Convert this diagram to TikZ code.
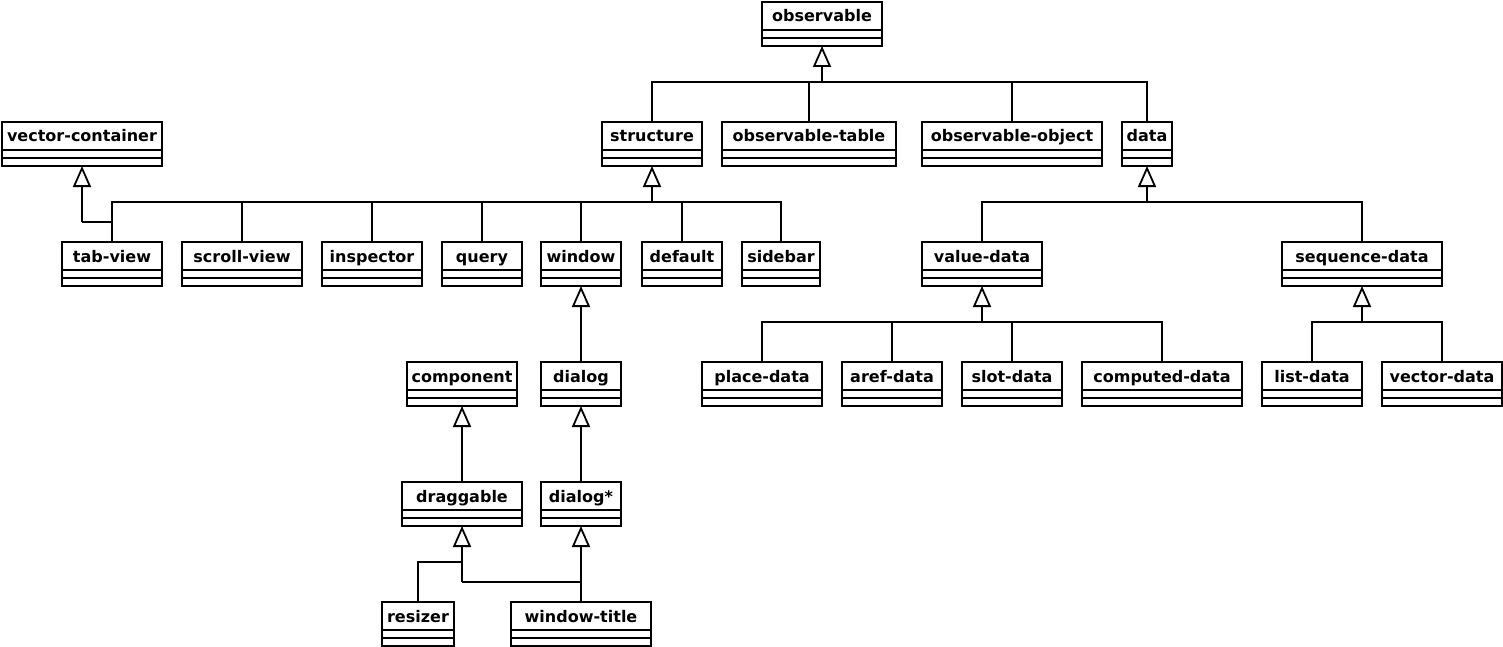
\documentclass[tikz,border=0pt]{standalone}
\usepackage{fontspec}
\setmainfont{DejaVu Sans}
\usepackage{tikz}
\usetikzlibrary{arrows.meta,positioning}
\tikzstyle{classhead} = [rectangle, draw=black, line width=1.8pt, inner sep=0pt, outer sep=0pt, minimum height=28pt, text height=14pt, text depth=2pt, font=\fontsize{16}{18}\selectfont\bfseries, anchor=north west]
\tikzstyle{classbody} = [rectangle, draw=black, line width=1.8pt, inner sep=0pt, outer sep=0pt, minimum height=16pt, path picture={\draw[line width=1.8pt] (path picture bounding box.west) -- (path picture bounding box.east);}]
\tikzstyle{inherit} = [line width=1.8pt, -{Triangle[open, width=18pt, length=21pt]}]
\tikzstyle{link} = [line width=1.8pt]

\begin{document}
\begin{tikzpicture}[x=1pt, y=-1pt]
\useasboundingbox (0,0) rectangle (1503,647);

% Top level
\node (observable) [classhead, minimum width=120pt] at (762,2) {observable};
\node (observable-b) [classbody, minimum width=120pt, below=0pt of observable] {};

% Second row
\node (vector-container) [classhead, minimum width=160pt] at (2,122) {vector-container};
\node (vector-container-b) [classbody, minimum width=160pt, below=0pt of vector-container] {};
\node (structure) [classhead, minimum width=100pt] at (602,122) {structure};
\node (structure-b) [classbody, minimum width=100pt, below=0pt of structure] {};
\node (observable-table) [classhead, minimum width=174pt] at (722,122) {observable-table};
\node (observable-table-b) [classbody, minimum width=174pt, below=0pt of observable-table] {};
\node (observable-object) [classhead, minimum width=180pt] at (922,122) {observable-object};
\node (observable-object-b) [classbody, minimum width=180pt, below=0pt of observable-object] {};
\node (data) [classhead, minimum width=50pt] at (1122,122) {data};
\node (data-b) [classbody, minimum width=50pt, below=0pt of data] {};

% Third row
\node (tab-view) [classhead, minimum width=100pt] at (62,242) {tab-view};
\node (tab-view-b) [classbody, minimum width=100pt, below=0pt of tab-view] {};
\node (scroll-view) [classhead, minimum width=120pt] at (182,242) {scroll-view};
\node (scroll-view-b) [classbody, minimum width=120pt, below=0pt of scroll-view] {};
\node (inspector) [classhead, minimum width=100pt] at (322,242) {inspector};
\node (inspector-b) [classbody, minimum width=100pt, below=0pt of inspector] {};
\node (query) [classhead, minimum width=80pt] at (442,242) {query};
\node (query-b) [classbody, minimum width=80pt, below=0pt of query] {};
\node (window) [classhead, minimum width=80pt] at (541,242) {window};
\node (window-b) [classbody, minimum width=80pt, below=0pt of window] {};
\node (default) [classhead, minimum width=80pt] at (642,242) {default};
\node (default-b) [classbody, minimum width=80pt, below=0pt of default] {};
\node (sidebar) [classhead, minimum width=78pt] at (742,242) {sidebar};
\node (sidebar-b) [classbody, minimum width=78pt, below=0pt of sidebar] {};
\node (value-data) [classhead, minimum width=120pt] at (922,242) {value-data};
\node (value-data-b) [classbody, minimum width=120pt, below=0pt of value-data] {};
\node (sequence-data) [classhead, minimum width=160pt] at (1282,242) {sequence-data};
\node (sequence-data-b) [classbody, minimum width=160pt, below=0pt of sequence-data] {};

% Fourth row
\node (component) [classhead, minimum width=110pt] at (407,362) {component};
\node (component-b) [classbody, minimum width=110pt, below=0pt of component] {};
\node (dialog) [classhead, minimum width=80pt] at (541,362) {dialog};
\node (dialog-b) [classbody, minimum width=80pt, below=0pt of dialog] {};
\node (place-data) [classhead, minimum width=120pt] at (702,362) {place-data};
\node (place-data-b) [classbody, minimum width=120pt, below=0pt of place-data] {};
\node (aref-data) [classhead, minimum width=100pt] at (842,362) {aref-data};
\node (aref-data-b) [classbody, minimum width=100pt, below=0pt of aref-data] {};
\node (slot-data) [classhead, minimum width=100pt] at (962,362) {slot-data};
\node (slot-data-b) [classbody, minimum width=100pt, below=0pt of slot-data] {};
\node (computed-data) [classhead, minimum width=160pt] at (1082,362) {computed-data};
\node (computed-data-b) [classbody, minimum width=160pt, below=0pt of computed-data] {};
\node (list-data) [classhead, minimum width=100pt] at (1262,362) {list-data};
\node (list-data-b) [classbody, minimum width=100pt, below=0pt of list-data] {};
\node (vector-data) [classhead, minimum width=120pt] at (1382,362) {vector-data};
\node (vector-data-b) [classbody, minimum width=120pt, below=0pt of vector-data] {};

% Fifth and sixth rows
\node (draggable) [classhead, minimum width=120pt] at (402,482) {draggable};
\node (draggable-b) [classbody, minimum width=120pt, below=0pt of draggable] {};
\node (dialogstar) [classhead, minimum width=80pt] at (541,482) {dialog*};
\node (dialogstar-b) [classbody, minimum width=80pt, below=0pt of dialogstar] {};
\node (resizer) [classhead, minimum width=72pt] at (382,602) {resizer};
\node (resizer-b) [classbody, minimum width=72pt, below=0pt of resizer] {};
\node (window-title) [classhead, minimum width=140pt] at (511,602) {window-title};
\node (window-title-b) [classbody, minimum width=140pt, below=0pt of window-title] {};

% Junction points
\coordinate (obs-bus) at (822,82);
\coordinate (vc-bus) at (82,222);
\coordinate (str-bus) at (652,202);
\coordinate (data-bus) at (1147,202);
\coordinate (vd-bus) at (982,322);
\coordinate (sd-bus) at (1362,322);
\coordinate (drag-bus) at (462,582);
\coordinate (drag-join) at (462,562);

% Generalizations
\draw[inherit] (obs-bus) -- (obs-bus |- observable-b.south);
\draw[link] (structure.north) |- (obs-bus);
\draw[link] (observable-table.north) |- (obs-bus);
\draw[link] (observable-object.north) |- (obs-bus);
\draw[link] (data.north) |- (obs-bus);

\draw[inherit] (vc-bus) -- (vc-bus |- vector-container-b.south);
\draw[link] (tab-view.north) |- (vc-bus);

\draw[inherit] (str-bus) -- (str-bus |- structure-b.south);
\draw[link] (tab-view.north) |- (str-bus);
\draw[link] (scroll-view.north) |- (str-bus);
\draw[link] (inspector.north) |- (str-bus);
\draw[link] (query.north) |- (str-bus);
\draw[link] (window.north) |- (str-bus);
\draw[link] (default.north) |- (str-bus);
\draw[link] (sidebar.north) |- (str-bus);

\draw[inherit] (data-bus) -- (data-bus |- data-b.south);
\draw[link] (value-data.north) |- (data-bus);
\draw[link] (sequence-data.north) |- (data-bus);

\draw[inherit] (vd-bus) -- (vd-bus |- value-data-b.south);
\draw[link] (place-data.north) |- (vd-bus);
\draw[link] (aref-data.north) |- (vd-bus);
\draw[link] (slot-data.north) |- (vd-bus);
\draw[link] (computed-data.north) |- (vd-bus);

\draw[inherit] (sd-bus) -- (sd-bus |- sequence-data-b.south);
\draw[link] (list-data.north) |- (sd-bus);
\draw[link] (vector-data.north) |- (sd-bus);

\draw[inherit] (dialog.north) -- (dialog.north |- window-b.south);
\draw[inherit] (draggable.north) -- (draggable.north |- component-b.south);
\draw[inherit] (dialogstar.north) -- (dialogstar.north |- dialog-b.south);
\draw[inherit] (window-title.north) -- (window-title.north |- dialogstar-b.south);

\draw[inherit] (drag-bus) -- (drag-bus |- draggable-b.south);
\draw[link] (resizer.north) |- (drag-join);
\draw[link] (window-title.north) |- (drag-bus);
\end{tikzpicture}
\end{document}
